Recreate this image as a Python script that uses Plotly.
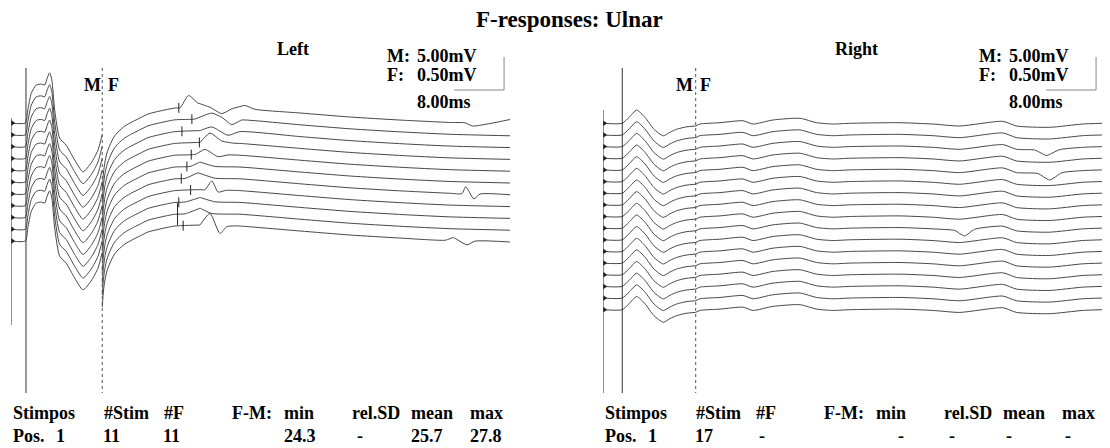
import numpy as np
import plotly.graph_objects as go

# ---------------- data ----------------
W, H = 1110, 448

# M-response template, left (ms, mV)
left_m_t = [0.0, 2.3, 2.7, 3.25, 4.05, 4.85, 5.4, 5.8, 6.2, 6.55, 7.0, 7.8, 8.85, 10.2, 11.55, 12.85, 13.95, 14.6]
left_m_mv = [0.0, 0.0, 2.0, 4.5, 5.75, 5.9, 5.75, 6.8, 7.6, 6.5, 2.0, -2.3, -3.35, -5.6, -7.4, -6.05, -4.1, -1.8]
# F-window template, left (ms, uV)
left_f_t = [14.63, 14.82, 15.06, 15.38, 15.87, 16.5, 17.15, 18.27, 19.39, 20.67, 21.96, 23.88, 26.28, 30.29, 36.7, 46.3, 54.3, 62.3, 70.35, 80.0]
left_f_uv = [-1000, -758, -591, -455, -333, -212, -136, -45, 15, 76, 136, 182, 227, 242, 227, 152, 91, 45, 8, -15]

# F-wave latency markers (ms) per left sweep, and marker half-heights
left_f_lat = [26.9, 29.0, 27.4, 30.2, 28.9, 28.2, 27.3, 28.8, 26.9, 26.7, 27.6]
left_f_mark = [5, 5, 5, 5, 5, 5, 5, 5, 5, 11, 5]

# F-wave deflections per left sweep: (times ms, extra uV)
left_fw_t = [
    [27.1, 28.45, 29.97, 31.9, 33.8, 35.4, 37.5, 39.1, 72.8, 74.0, 76.8, 80.0],
    [29.5, 32.2, 33.8, 35.4, 37.0],
    [30.3, 32.2, 34.8, 36.7],
    [30.3, 31.9, 33.8, 35.9],
    [29.5, 31.1, 33.2, 34.8],
    [28.7, 30.3, 32.7],
    [27.9, 30.0, 32.7, 72.3, 72.9, 74.2, 75.2],
    [31.1, 32.2, 33.2, 34.5],
    [27.9, 30.3, 32.7],
    [27.9, 30.3, 32.2],
    [30.3, 31.9, 33.5, 34.6, 35.9, 69.6, 70.9, 73.1, 74.4],
]
left_fw_uv = [
    [0, 182, 60, 0, -91, -15, 45, 0, 0, -45, 0, 68],
    [0, 91, 30, -76, 0],
    [0, 60, -60, 0],
    [0, 145, 30, 0],
    [0, 76, -30, 0],
    [0, 60, 0],
    [0, 76, 0, 0, 106, -76, 0],
    [0, 136, -30, 0],
    [0, 60, 0],
    [0, 76, 0],
    [0, 182, -121, -15, 0, 0, 45, -60, 0],
]

# Right side templates
right_m_t = [0.0, 3.09, 4.17, 5.4, 6.73, 8.17, 9.66, 10.74, 11.81, 13.3, 14.86]
right_m_mv = [0.0, 0.0, 0.9, 2.0, 0.9, -0.9, -1.9, -1.35, -0.9, -0.55, -0.4]
right_f_t = [14.86, 15.54, 18.75, 22.44, 24.04, 27.24, 31.57, 34.25, 36.86, 39.58, 47.6, 52.88, 57.2, 64.1, 66.3, 71.6, 76.9, 80.0]
right_f_uv = [-41, -11, 9, 39, -11, 50, 76, 9, -11, 0, 9, -11, -41, 30, -41, -61, -11, 0]
right_fw = {2: ([69.2, 71.1, 73.2], [0, -76, 0]),
            4: ([69.7, 71.6, 73.6], [0, -91, 0]),
            9: ([56.4, 58.0, 59.6], [0, -85, 0])}

m_onset_ms = [2.4, 3.09]
f_split_ms = [14.63, 14.86]
scale_bar_ms = 8.0

n_left, n_right = 11, 17

hdr = ['Stimpos', '#Stim', '#F', 'F-M:', 'min', 'rel.SD', 'mean', 'max']
row_left = ['Pos.', '1', '11', '11', '24.3', '-', '25.7', '27.8']
row_right = ['Pos.', '1', '17', '-', '-', '-', '-', '-']

# ---------------- layout constants ----------------
PX_DIV = 33.0          # pixels per amplitude division
M_GAIN = 5.0           # mV / div
F_GAIN = 500.0         # uV / div
LINE = '#474747'
FONT = 'Liberation Serif'

fig = go.Figure()


def add_sweep(xa, t_m, mv, t_f, uv, base, extra_t=None, extra_v=None):
    ym = base - np.array(mv) / M_GAIN * PX_DIV
    fig.add_trace(go.Scatter(x=t_m, y=ym, mode='lines', xaxis=xa, yaxis='y',
                             line=dict(color=LINE, width=1, shape='spline', smoothing=0.6),
                             hoverinfo='skip', showlegend=False))
    tt = np.array(t_f, float)
    if extra_t is not None:
        tt = np.unique(np.concatenate([tt, extra_t]))
    vv = np.interp(tt, t_f, uv)
    if extra_t is not None:
        vv = vv + np.interp(tt, extra_t, extra_v, left=0, right=0)
    yf = base - vv / F_GAIN * PX_DIV
    fig.add_trace(go.Scatter(x=tt, y=yf, mode='lines', xaxis=xa, yaxis='y',
                             line=dict(color=LINE, width=1, shape='spline', smoothing=0.6),
                             hoverinfo='skip', showlegend=False))
    return tt, yf


# left sweeps
mk_x, mk_y = [], []
for i in range(n_left):
    base = 123 + 11.8 * i
    tt, yf = add_sweep('x', left_m_t, left_m_mv, left_f_t, left_f_uv, base,
                       left_fw_t[i], left_fw_uv[i])
    yc = float(np.interp(left_f_lat[i], tt, yf))
    h = left_f_mark[i]
    mk_x += [left_f_lat[i], left_f_lat[i], None]
    mk_y += [yc - h, yc + h, None]
fig.add_trace(go.Scatter(x=mk_x, y=mk_y, mode='lines', xaxis='x', yaxis='y',
                         line=dict(color='#222', width=1), hoverinfo='skip', showlegend=False))
fig.add_trace(go.Scatter(x=[0.25] * n_left, y=[123 + 11.8 * i for i in range(n_left)],
                         mode='markers', xaxis='x', yaxis='y',
                         marker=dict(symbol='triangle-right', size=5, color='#222'),
                         hoverinfo='skip', showlegend=False))

# right sweeps
for i in range(n_right):
    base = 123.3 + 11.65 * i
    et, ev = right_fw.get(i, (None, None))
    add_sweep('x2', right_m_t, right_m_mv, right_f_t, right_f_uv, base, et, ev)
fig.add_trace(go.Scatter(x=[0.25] * n_right, y=[123.3 + 11.65 * i for i in range(n_right)],
                         mode='markers', xaxis='x2', yaxis='y',
                         marker=dict(symbol='triangle-right', size=5, color='#222'),
                         hoverinfo='skip', showlegend=False))

# vertical reference lines
shapes = []
for xr, y0 in (('x', 118), ('x2', 110)):
    y1 = 325 if xr == 'x' else 393
    shapes.append(dict(type='line', xref=xr, yref='y', x0=0, x1=0, y0=y0, y1=y1,
                       line=dict(color='#222', width=1)))
for k, xr in enumerate(('x', 'x2')):
    shapes.append(dict(type='line', xref=xr, yref='y', x0=m_onset_ms[k], x1=m_onset_ms[k],
                       y0=68, y1=393, line=dict(color='#333', width=1)))
    shapes.append(dict(type='line', xref=xr, yref='y', x0=f_split_ms[k], x1=f_split_ms[k],
                       y0=68, y1=393, line=dict(color='#555', width=1, dash='dot')))
    # scale bar
    shapes.append(dict(type='line', xref=xr, yref='y', x0=79.05, x1=79.05, y0=57, y1=90,
                       line=dict(color='#888', width=1)))
    shapes.append(dict(type='line', xref=xr, yref='y', x0=79.05 - scale_bar_ms, x1=79.05,
                       y0=90, y1=90, line=dict(color='#888', width=1)))

ann = []


def txt(px, py, s, size=18, anchor='left'):
    ann.append(dict(x=px / W, y=py, xref='paper', yref='y', text='<b>' + s + '</b>',
                    showarrow=False, xanchor=anchor, yanchor='middle',
                    font=dict(family=FONT, size=size, color='black')))


txt(569, 19, 'F-responses: Ulnar', size=23, anchor='center')
for off, side in ((0, 'Left'), (592, 'Right')):
    txt(275 + off + (0 if side == 'Left' else -34), 49, side)
    txt(82 + off, 85, 'M')
    txt(106 + off, 85, 'F')
    txt(385 + off, 56, 'M:')
    txt(415 + off, 56, '5.00mV')
    txt(385 + off, 75, 'F:')
    txt(415 + off, 75, '0.50mV')
    txt(415 + off, 102, '8.00ms')

hdr_x = [11, 102, 162, 230, 282, 350, 409, 468]
row_x_left = [11, 54, 101, 161, 282, 355, 409, 468]
row_x_right = [11, 54, 101, 165, 304, 355, 412, 471]
for off, row, rx in ((0, row_left, row_x_left), (592, row_right, row_x_right)):
    for x, s in zip(hdr_x, hdr):
        txt(x + off, 413, s)
    for x, s in zip(rx, row):
        txt(x + off, 436, s)

fig.update_layout(
    width=W, height=H, margin=dict(l=0, r=0, t=0, b=0),
    paper_bgcolor='white', plot_bgcolor='white',
    xaxis=dict(domain=[11 / W, 510 / W], range=[0, 80], visible=False, fixedrange=True),
    xaxis2=dict(domain=[603 / W, 1102 / W], range=[0, 80], visible=False, anchor='y', fixedrange=True),
    yaxis=dict(domain=[0, 1], range=[H, 0], visible=False, fixedrange=True),
    shapes=shapes, annotations=ann, showlegend=False,
)
fig.write_html('out.html')
